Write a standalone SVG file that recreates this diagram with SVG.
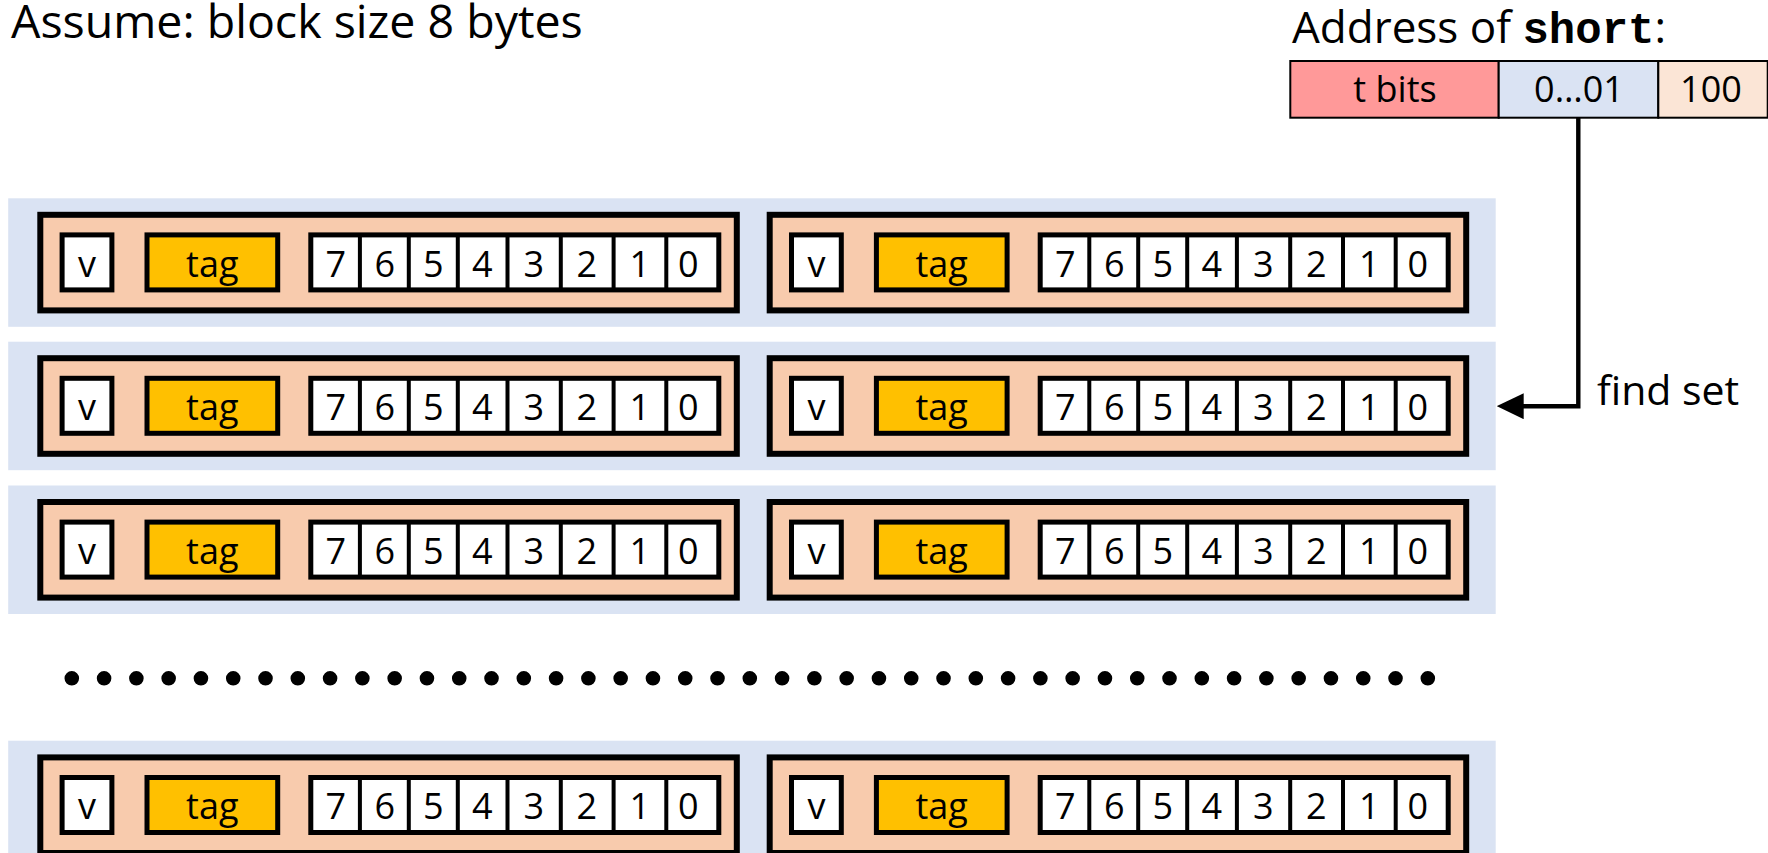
<svg xmlns="http://www.w3.org/2000/svg" width="1768" height="853" viewBox="0 0 1768 853">
<style>
.setbg{fill:#DAE3F3}
.line{fill:#F8CBAD;stroke:#000;stroke-width:6}
.vb{fill:#fff;stroke:#000;stroke-width:5}
.tagb{fill:#FFC000;stroke:#000;stroke-width:5}
.cells{fill:#fff;stroke:#000;stroke-width:5}
.div{stroke:#000;stroke-width:4;fill:none}
.t{font-family:"Open Sans","Noto Sans",sans-serif;font-size:36px;text-anchor:middle;fill:#000}
.lbl{font-family:"Open Sans","Noto Sans",sans-serif;fill:#000}
.addr{stroke:#000;stroke-width:2}
.conn{stroke:#000;stroke-width:4.4;fill:none}
</style>
<defs>
<marker id="ah" markerUnits="userSpaceOnUse" viewBox="0 0 27 26" refX="2" refY="13" markerWidth="27" markerHeight="26" orient="auto">
<path d="M0,0 L27,13 L0,26 z" fill="#000"/>
</marker>
</defs>
<text id="title" class="lbl" x="11" y="38" font-size="46.5">Assume: block size 8 bytes</text>
<g id="address">
<text class="lbl" x="1292" y="43" font-size="44">Address of <tspan font-family="'Liberation Mono',monospace" font-weight="bold">short</tspan>:</text>
<rect class="addr" x="1290.3" y="61" width="208.4" height="56.7" fill="#FF9999"/>
<rect class="addr" x="1498.7" y="61" width="159.6" height="56.7" fill="#DAE3F3"/>
<rect class="addr" x="1658.3" y="61" width="109.4" height="56.7" fill="#FBE5D6"/>
<text class="t" x="1395" y="101.5" font-size="37">t bits</text>
<text class="t" x="1579" y="101.5" font-size="37">0…01</text>
<text class="t" x="1711" y="101.5" font-size="37">100</text>
</g>
<g id="set1">
<rect class="setbg" x="8.2" y="198.3" width="1487.5" height="128.5"/>
<g id="set1-line1" transform="translate(37.3,211.8)">
<rect class="line" x="3" y="3" width="696.5" height="95.6"/>
<rect class="vb" x="24.8" y="23.1" width="49.8" height="55"/>
<rect class="tagb" x="109.7" y="23.1" width="130.7" height="55"/>
<rect class="cells" x="273.5" y="23.1" width="408" height="55"/>
<path class="div" d="M322.6 23.1V78.1M371.5 23.1V78.1M420.5 23.1V78.1M470.2 23.1V78.1M523.5 23.1V78.1M576.3 23.1V78.1M629 23.1V78.1"/>
<text class="t" x="49.8" y="65">v</text><text class="t" x="175" y="65">tag</text>
<text class="t" x="298.5" y="65">7</text><text class="t" x="347.5" y="65">6</text><text class="t" x="396" y="65">5</text><text class="t" x="445" y="65">4</text><text class="t" x="496.5" y="65">3</text><text class="t" x="549.5" y="65">2</text><text class="t" x="602.5" y="65">1</text><text class="t" x="651" y="65">0</text>
</g>
<g id="set1-line2" transform="translate(766.7,211.8)">
<rect class="line" x="3" y="3" width="696.5" height="95.6"/>
<rect class="vb" x="24.8" y="23.1" width="49.8" height="55"/>
<rect class="tagb" x="109.7" y="23.1" width="130.7" height="55"/>
<rect class="cells" x="273.5" y="23.1" width="408" height="55"/>
<path class="div" d="M322.6 23.1V78.1M371.5 23.1V78.1M420.5 23.1V78.1M470.2 23.1V78.1M523.5 23.1V78.1M576.3 23.1V78.1M629 23.1V78.1"/>
<text class="t" x="49.8" y="65">v</text><text class="t" x="175" y="65">tag</text>
<text class="t" x="298.5" y="65">7</text><text class="t" x="347.5" y="65">6</text><text class="t" x="396" y="65">5</text><text class="t" x="445" y="65">4</text><text class="t" x="496.5" y="65">3</text><text class="t" x="549.5" y="65">2</text><text class="t" x="602.5" y="65">1</text><text class="t" x="651" y="65">0</text>
</g>
</g>
<g id="set2">
<rect class="setbg" x="8.2" y="341.7" width="1487.5" height="128.5"/>
<g id="set2-line1" transform="translate(37.3,355.2)">
<rect class="line" x="3" y="3" width="696.5" height="95.6"/>
<rect class="vb" x="24.8" y="23.1" width="49.8" height="55"/>
<rect class="tagb" x="109.7" y="23.1" width="130.7" height="55"/>
<rect class="cells" x="273.5" y="23.1" width="408" height="55"/>
<path class="div" d="M322.6 23.1V78.1M371.5 23.1V78.1M420.5 23.1V78.1M470.2 23.1V78.1M523.5 23.1V78.1M576.3 23.1V78.1M629 23.1V78.1"/>
<text class="t" x="49.8" y="65">v</text><text class="t" x="175" y="65">tag</text>
<text class="t" x="298.5" y="65">7</text><text class="t" x="347.5" y="65">6</text><text class="t" x="396" y="65">5</text><text class="t" x="445" y="65">4</text><text class="t" x="496.5" y="65">3</text><text class="t" x="549.5" y="65">2</text><text class="t" x="602.5" y="65">1</text><text class="t" x="651" y="65">0</text>
</g>
<g id="set2-line2" transform="translate(766.7,355.2)">
<rect class="line" x="3" y="3" width="696.5" height="95.6"/>
<rect class="vb" x="24.8" y="23.1" width="49.8" height="55"/>
<rect class="tagb" x="109.7" y="23.1" width="130.7" height="55"/>
<rect class="cells" x="273.5" y="23.1" width="408" height="55"/>
<path class="div" d="M322.6 23.1V78.1M371.5 23.1V78.1M420.5 23.1V78.1M470.2 23.1V78.1M523.5 23.1V78.1M576.3 23.1V78.1M629 23.1V78.1"/>
<text class="t" x="49.8" y="65">v</text><text class="t" x="175" y="65">tag</text>
<text class="t" x="298.5" y="65">7</text><text class="t" x="347.5" y="65">6</text><text class="t" x="396" y="65">5</text><text class="t" x="445" y="65">4</text><text class="t" x="496.5" y="65">3</text><text class="t" x="549.5" y="65">2</text><text class="t" x="602.5" y="65">1</text><text class="t" x="651" y="65">0</text>
</g>
</g>
<g id="set3">
<rect class="setbg" x="8.2" y="485.5" width="1487.5" height="128.5"/>
<g id="set3-line1" transform="translate(37.3,499)">
<rect class="line" x="3" y="3" width="696.5" height="95.6"/>
<rect class="vb" x="24.8" y="23.1" width="49.8" height="55"/>
<rect class="tagb" x="109.7" y="23.1" width="130.7" height="55"/>
<rect class="cells" x="273.5" y="23.1" width="408" height="55"/>
<path class="div" d="M322.6 23.1V78.1M371.5 23.1V78.1M420.5 23.1V78.1M470.2 23.1V78.1M523.5 23.1V78.1M576.3 23.1V78.1M629 23.1V78.1"/>
<text class="t" x="49.8" y="65">v</text><text class="t" x="175" y="65">tag</text>
<text class="t" x="298.5" y="65">7</text><text class="t" x="347.5" y="65">6</text><text class="t" x="396" y="65">5</text><text class="t" x="445" y="65">4</text><text class="t" x="496.5" y="65">3</text><text class="t" x="549.5" y="65">2</text><text class="t" x="602.5" y="65">1</text><text class="t" x="651" y="65">0</text>
</g>
<g id="set3-line2" transform="translate(766.7,499)">
<rect class="line" x="3" y="3" width="696.5" height="95.6"/>
<rect class="vb" x="24.8" y="23.1" width="49.8" height="55"/>
<rect class="tagb" x="109.7" y="23.1" width="130.7" height="55"/>
<rect class="cells" x="273.5" y="23.1" width="408" height="55"/>
<path class="div" d="M322.6 23.1V78.1M371.5 23.1V78.1M420.5 23.1V78.1M470.2 23.1V78.1M523.5 23.1V78.1M576.3 23.1V78.1M629 23.1V78.1"/>
<text class="t" x="49.8" y="65">v</text><text class="t" x="175" y="65">tag</text>
<text class="t" x="298.5" y="65">7</text><text class="t" x="347.5" y="65">6</text><text class="t" x="396" y="65">5</text><text class="t" x="445" y="65">4</text><text class="t" x="496.5" y="65">3</text><text class="t" x="549.5" y="65">2</text><text class="t" x="602.5" y="65">1</text><text class="t" x="651" y="65">0</text>
</g>
</g>
<g id="ellipsis">
<line x1="71.8" y1="678.3" x2="1429" y2="678.3" stroke="#000" stroke-width="14.6" stroke-linecap="round" stroke-dasharray="0 32.286"/>
</g>
<g id="set4">
<rect class="setbg" x="8.2" y="740.7" width="1487.5" height="128.5"/>
<g id="set4-line1" transform="translate(37.3,754.4)">
<rect class="line" x="3" y="3" width="696.5" height="95.6"/>
<rect class="vb" x="24.8" y="23.1" width="49.8" height="55"/>
<rect class="tagb" x="109.7" y="23.1" width="130.7" height="55"/>
<rect class="cells" x="273.5" y="23.1" width="408" height="55"/>
<path class="div" d="M322.6 23.1V78.1M371.5 23.1V78.1M420.5 23.1V78.1M470.2 23.1V78.1M523.5 23.1V78.1M576.3 23.1V78.1M629 23.1V78.1"/>
<text class="t" x="49.8" y="65">v</text><text class="t" x="175" y="65">tag</text>
<text class="t" x="298.5" y="65">7</text><text class="t" x="347.5" y="65">6</text><text class="t" x="396" y="65">5</text><text class="t" x="445" y="65">4</text><text class="t" x="496.5" y="65">3</text><text class="t" x="549.5" y="65">2</text><text class="t" x="602.5" y="65">1</text><text class="t" x="651" y="65">0</text>
</g>
<g id="set4-line2" transform="translate(766.7,754.4)">
<rect class="line" x="3" y="3" width="696.5" height="95.6"/>
<rect class="vb" x="24.8" y="23.1" width="49.8" height="55"/>
<rect class="tagb" x="109.7" y="23.1" width="130.7" height="55"/>
<rect class="cells" x="273.5" y="23.1" width="408" height="55"/>
<path class="div" d="M322.6 23.1V78.1M371.5 23.1V78.1M420.5 23.1V78.1M470.2 23.1V78.1M523.5 23.1V78.1M576.3 23.1V78.1M629 23.1V78.1"/>
<text class="t" x="49.8" y="65">v</text><text class="t" x="175" y="65">tag</text>
<text class="t" x="298.5" y="65">7</text><text class="t" x="347.5" y="65">6</text><text class="t" x="396" y="65">5</text><text class="t" x="445" y="65">4</text><text class="t" x="496.5" y="65">3</text><text class="t" x="549.5" y="65">2</text><text class="t" x="602.5" y="65">1</text><text class="t" x="651" y="65">0</text>
</g>
</g>
<g id="connectors">
<path class="conn" d="M1578.3 117.7V406.2H1521.7" marker-end="url(#ah)"/>
<text class="lbl" x="1597" y="405" font-size="41">find set</text>
</g>
</svg>
